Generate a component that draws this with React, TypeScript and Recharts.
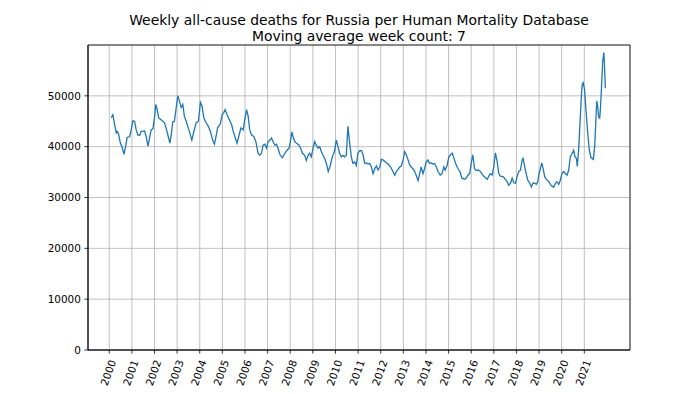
import { LineChart, Line, XAxis, YAxis, CartesianGrid, ReferenceArea } from 'recharts';

const titleLines = [
  'Weekly all-cause deaths for Russia per Human Mortality Database',
  'Moving average week count: 7',
];

const yearTicks = [
  2000, 2001, 2002, 2003, 2004, 2005, 2006, 2007, 2008, 2009, 2010,
  2011, 2012, 2013, 2014, 2015, 2016, 2017, 2018, 2019, 2020, 2021,
];

const deathTicks = [0, 10000, 20000, 30000, 40000, 50000];

// sample dates as decimal years
const sampleYears = [
  2000.09, 2000.16, 2000.24, 2000.31, 2000.35, 2000.41, 2000.49, 2000.56, 2000.65, 2000.72, 2000.79, 2000.9, 2000.97,
  2001.04, 2001.12, 2001.19, 2001.26, 2001.34, 2001.41, 2001.49, 2001.56, 2001.63, 2001.71, 2001.78, 2001.85, 2001.93,
  2002.0, 2002.06, 2002.12, 2002.18, 2002.29, 2002.44, 2002.51, 2002.59, 2002.68, 2002.74, 2002.81, 2002.88, 2002.96,
  2003.03, 2003.1, 2003.18, 2003.25, 2003.32, 2003.4, 2003.47, 2003.54, 2003.65, 2003.74, 2003.84, 2003.94,
  2004.03, 2004.1, 2004.18, 2004.28, 2004.38, 2004.47, 2004.57, 2004.65, 2004.72, 2004.79, 2004.91, 2004.99,
  2005.06, 2005.12, 2005.21, 2005.31, 2005.41, 2005.48, 2005.55, 2005.65, 2005.74, 2005.82, 2005.92, 2005.99,
  2006.07, 2006.14, 2006.21, 2006.29, 2006.39, 2006.48, 2006.58, 2006.65, 2006.73, 2006.8, 2006.88, 2006.95,
  2007.02, 2007.1, 2007.17, 2007.24, 2007.32, 2007.39, 2007.46, 2007.54, 2007.65, 2007.76, 2007.86, 2007.95,
  2008.01, 2008.07, 2008.12, 2008.2, 2008.27, 2008.39, 2008.46, 2008.54, 2008.64, 2008.71, 2008.79, 2008.86, 2008.93,
  2009.01, 2009.08, 2009.15, 2009.23, 2009.3, 2009.38, 2009.45, 2009.52, 2009.6, 2009.68, 2009.77, 2009.86, 2009.95,
  2010.04, 2010.11, 2010.18, 2010.26, 2010.33, 2010.4, 2010.48, 2010.55, 2010.62, 2010.7, 2010.77, 2010.85, 2010.92, 2010.99,
  2011.07, 2011.15, 2011.22, 2011.29, 2011.37, 2011.44, 2011.51, 2011.59, 2011.66, 2011.74, 2011.81, 2011.88, 2011.96,
  2012.03, 2012.1, 2012.21, 2012.32, 2012.44, 2012.54, 2012.62, 2012.69, 2012.76, 2012.84, 2012.91, 2012.99,
  2013.06, 2013.13, 2013.21, 2013.28, 2013.35, 2013.47, 2013.54, 2013.65, 2013.72, 2013.79, 2013.87, 2013.94,
  2014.01, 2014.09, 2014.16, 2014.24, 2014.31, 2014.38, 2014.46, 2014.53, 2014.63, 2014.71, 2014.79, 2014.85, 2014.94,
  2015.01, 2015.09, 2015.16, 2015.24, 2015.31, 2015.41, 2015.5, 2015.59, 2015.71, 2015.78, 2015.85, 2015.93,
  2016.0, 2016.07, 2016.15, 2016.22, 2016.32, 2016.41, 2016.51, 2016.63, 2016.71, 2016.78, 2016.85, 2016.93,
  2017.0, 2017.07, 2017.15, 2017.22, 2017.29, 2017.41, 2017.51, 2017.59, 2017.66, 2017.74, 2017.81, 2017.88, 2017.96,
  2018.03, 2018.1, 2018.18, 2018.25, 2018.29, 2018.35, 2018.43, 2018.5, 2018.59, 2018.66, 2018.74, 2018.81, 2018.88, 2018.94,
  2019.0, 2019.06, 2019.12, 2019.18, 2019.25, 2019.32, 2019.43, 2019.53, 2019.65, 2019.72, 2019.79, 2019.87, 2019.94,
  2020.01, 2020.09, 2020.16, 2020.24, 2020.31, 2020.38, 2020.46, 2020.53, 2020.59, 2020.65, 2020.69, 2020.75, 2020.81,
  2020.87, 2020.91, 2020.95, 2021.01, 2021.07, 2021.15, 2021.22, 2021.29, 2021.4, 2021.46, 2021.5, 2021.55, 2021.59,
  2021.63, 2021.68, 2021.72, 2021.77, 2021.81, 2021.86, 2021.88, 2021.93,
];

const movingAvgDeaths = [
  45700, 46300, 44300, 42700, 43000, 42500, 40700, 40000, 38500, 40000, 41800, 42000, 43300,
  45100, 45000, 43300, 42300, 42200, 43000, 43000, 43100, 42000, 40100, 41700, 43300, 43500,
  45700, 48300, 47300, 45700, 45300, 44700, 43700, 42300, 40700, 42300, 44900, 45000, 47700,
  50000, 49000, 47700, 48300, 46000, 45000, 44000, 43000, 41300, 43000, 44700, 45000,
  48700, 48000, 45700, 44700, 44000, 43000, 41300, 40500, 42000, 43700, 44500, 46300,
  46700, 47300, 46300, 45300, 44300, 43000, 42000, 40700, 42300, 43700, 43300, 45300,
  47300, 46000, 43300, 42300, 42000, 41000, 38700, 38300, 38700, 40300, 40500, 39700,
  41000, 41300, 41700, 41000, 40300, 40500, 39700, 38500, 37800, 38700, 39300, 39700,
  41000, 42900, 42000, 41000, 40700, 40300, 39700, 38700, 38300, 37300, 38300, 38700, 38000,
  39700, 41000, 40300, 39700, 40000, 39000, 38300, 37700, 36700, 35100, 36300, 38000, 39000,
  41300, 40000, 38700, 38000, 38300, 38000, 38300, 44000, 41000, 38000, 36700, 37000, 36300, 38700,
  39200, 39200, 38400, 36700, 36800, 36600, 36700, 36000, 34700, 35700, 36200, 35400, 36000,
  37500, 37400, 37000, 36600, 36000, 35100, 34400, 35100, 35500, 36000, 36200, 37400,
  39000, 38400, 37400, 36400, 36000, 35400, 34700, 33300, 34700, 36000, 34700, 35700,
  37000, 37400, 36700, 36800, 36600, 36700, 36000, 35100, 34400, 34700, 36000, 35400, 36400,
  38000, 38400, 38700, 37700, 36700, 35700, 35100, 33800, 33600, 33800, 34400, 34700,
  36700, 38400, 35700, 35300, 35400, 35100, 34400, 33900, 33600, 34200, 34700, 34400,
  36100, 38800, 37000, 34700, 34200, 34100, 33600, 33100, 32400, 32800, 33800, 32900, 32800,
  34100, 35100, 35400, 37400, 37700, 36400, 34700, 33400, 32800, 32100, 32900, 32800, 32600, 33100,
  34700, 35700, 36800, 35700, 34100, 33600, 33100, 32400, 32000, 32800, 33100, 32600, 33400,
  34700, 35100, 34700, 34400, 35400, 38000, 38700, 39300, 38000, 37700, 36100, 39400, 44700,
  50000, 52300, 52600, 51300, 47400, 42700, 39400, 37900, 37500, 40100, 44000, 49000, 48000,
  46000, 45500, 48000, 52600, 56600, 58500, 57300, 51500,
];

const chartData = sampleYears.map((year, i) => ({ year, deaths: movingAvgDeaths[i] }));

const FONT = '"DejaVu Sans", sans-serif';
const xDomain: [number, number] = [1999.06, 2023.02];
const yDomain: [number, number] = [0, 60000];

function YearTick({ x, y, payload }: any) {
  return (
    <text
      x={0}
      y={0}
      transform={`translate(${x + 7},${y + 8}) rotate(-70)`}
      textAnchor="end"
      fontSize={10.4}
      fontFamily={FONT}
      fill="#000"
    >
      {payload.value}
    </text>
  );
}

function DeathTick({ x, y, payload }: any) {
  return (
    <text x={x} y={y} dy="0.36em" textAnchor="end" fontSize={10.4} fontFamily={FONT} fill="#000">
      {payload.value}
    </text>
  );
}

export default function App() {
  return (
    <div style={{ position: 'absolute', left: 0, top: 0, width: 700, height: 394, background: '#fff' }}>
      <div
        style={{
          position: 'absolute',
          left: 59,
          top: 11.5,
          width: 600,
          textAlign: 'center',
          fontFamily: FONT,
          fontSize: 13.9,
          lineHeight: '16.5px',
          color: '#000',
        }}
      >
        {titleLines.map((t) => (
          <div key={t}>{t}</div>
        ))}
      </div>
      <LineChart width={700} height={394} data={chartData} margin={{ top: 45, right: 70, bottom: 0, left: 0 }}>
        <CartesianGrid stroke="#b0b0b0" strokeWidth={0.8} />
        <XAxis
          type="number"
          dataKey="year"
          domain={xDomain}
          ticks={yearTicks}
          interval={0}
          allowDataOverflow
          height={44}
          tickSize={3.6}
          tickMargin={0}
          tick={YearTick}
          axisLine={{ stroke: '#000', strokeWidth: 0.8 }}
          tickLine={{ stroke: '#000', strokeWidth: 0.8 }}
        />
        <YAxis
          type="number"
          domain={yDomain}
          ticks={deathTicks}
          interval={0}
          allowDataOverflow
          width={88}
          tickSize={3.6}
          tickMargin={3.6}
          tick={DeathTick}
          axisLine={{ stroke: '#000', strokeWidth: 0.8 }}
          tickLine={{ stroke: '#000', strokeWidth: 0.8 }}
        />
        <ReferenceArea
          x1={xDomain[0]}
          x2={xDomain[1]}
          y1={yDomain[0]}
          y2={yDomain[1]}
          fill="none"
          stroke="#000"
          strokeWidth={0.8}
        />
        <Line
          type="linear"
          dataKey="deaths"
          stroke="#1f77b4"
          strokeWidth={1.3}
          dot={false}
          isAnimationActive={false}
        />
      </LineChart>
    </div>
  );
}
